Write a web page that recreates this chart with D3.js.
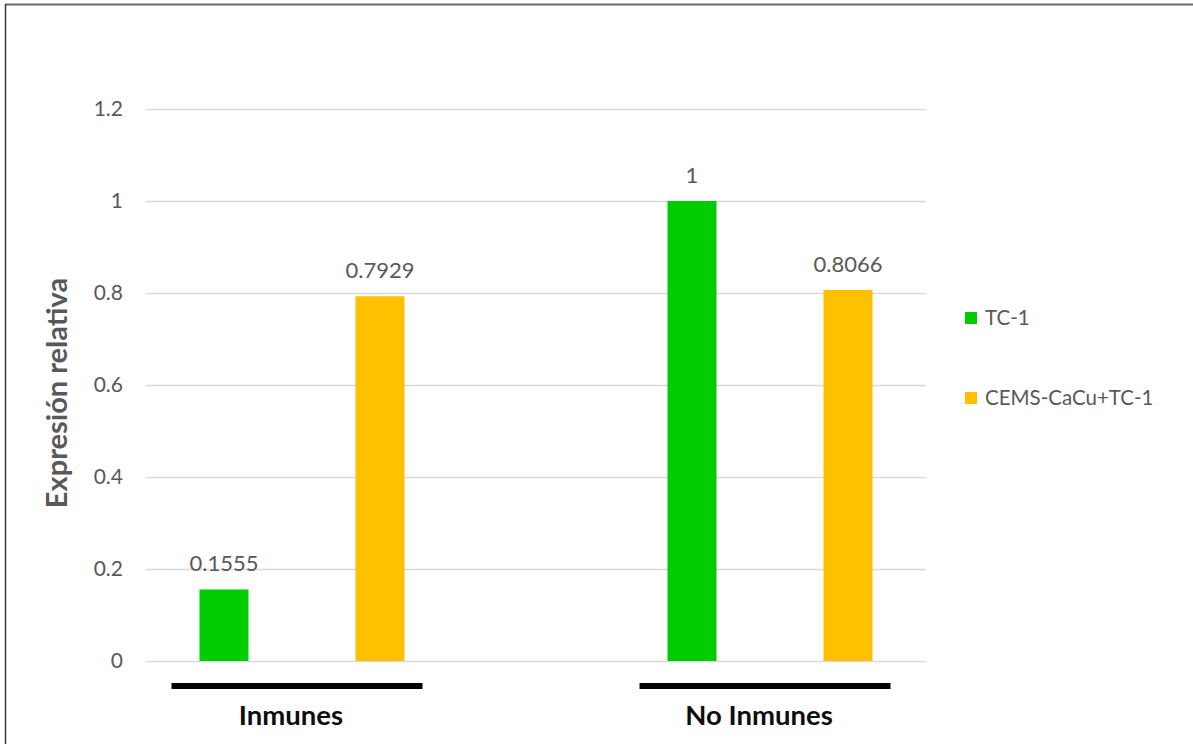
<!DOCTYPE html>
<html>
<head>
<meta charset="utf-8">
<script src="https://cdn.jsdelivr.net/npm/d3@7"></script>
<style>
  html, body { margin: 0; padding: 0; background: #fff; }
  svg { display: block; }
  text { font-family: Lato, "Open Sans", sans-serif; }
</style>
</head>
<body>
<svg id="chart" width="1193" height="744"></svg>
<script>
// ---- data ----
const categories = ["Inmunes", "No Inmunes"];
const seriesNames = ["TC-1", "CEMS-CaCu+TC-1"];
const tc1Values = [0.1555, 1];
const cemsValues = [0.7929, 0.8066];
const valueLabels = ["0.1555", "0.7929", "1", "0.8066"];
const yTicks = [0, 0.2, 0.4, 0.6, 0.8, 1, 1.2];
const yTickLabels = ["0", "0.2", "0.4", "0.6", "0.8", "1", "1.2"];
const seriesColors = ["#00CC00", "#FFC000"];

// slots: each bar has its own slot, with an empty slot between groups
const slots = ["Inmunes|TC-1", "Inmunes|CEMS-CaCu+TC-1", "gap", "No Inmunes|TC-1", "No Inmunes|CEMS-CaCu+TC-1"];
const bars = [];
let li = 0;
categories.forEach((c, ci) => {
  seriesNames.forEach((s, si) => {
    const v = si === 0 ? tc1Values[ci] : cemsValues[ci];
    bars.push({ cat: c, series: s, si, value: v, slot: c + "|" + s, label: valueLabels[li++] });
  });
});

const svg = d3.select("#chart");
const plot = { left: 146, right: 926, top: 109, bottom: 661 };

const x = d3.scaleBand().domain(slots).range([plot.left, plot.right])
  .paddingInner(0.686).paddingOuter(0.343);
const y = d3.scaleLinear().domain([0, 1.2]).range([plot.bottom, plot.top]);

// frame
svg.append("line").attr("x1", 5).attr("x2", 1193).attr("y1", 4.5).attr("y2", 4.5)
  .attr("stroke", "#6b6b6b").attr("stroke-width", 2);
svg.append("line").attr("x1", 5.5).attr("x2", 5.5).attr("y1", 4).attr("y2", 744)
  .attr("stroke", "#3a3a3a").attr("stroke-width", 1.5);

// gridlines + tick labels via axis
const yAxis = d3.axisLeft(y).tickValues(yTicks)
  .tickFormat((d, i) => yTickLabels[i])
  .tickSize(-(plot.right - plot.left)).tickPadding(23);
const ga = svg.append("g").attr("transform", `translate(${plot.left},0)`).call(yAxis);
ga.select(".domain").remove();
ga.selectAll(".tick line").attr("stroke", "#D9D9D9").attr("stroke-width", 1.3);
ga.selectAll(".tick text").attr("fill", "#595959").attr("font-size", 21)
  .attr("font-family", "Lato, sans-serif");

// bars
svg.append("g").selectAll("rect").data(bars).join("rect")
  .attr("x", d => x(d.slot))
  .attr("width", x.bandwidth())
  .attr("y", d => y(d.value))
  .attr("height", d => y(0) - y(d.value))
  .attr("fill", d => seriesColors[d.si]);

// value labels
svg.append("g").selectAll("text").data(bars).join("text")
  .attr("x", d => x(d.slot) + x.bandwidth() / 2)
  .attr("y", d => y(d.value) - 18)
  .attr("text-anchor", "middle")
  .attr("fill", "#595959").attr("font-size", 22)
  .text(d => d.label);

// group underline bars and category labels
categories.forEach((c, ci) => {
  const x0 = x(c + "|" + seriesNames[0]);
  const x1 = x(c + "|" + seriesNames[1]) + x.bandwidth();
  const lx0 = x0 - 28, lx1 = x1 + 18;
  svg.append("line").attr("x1", lx0).attr("x2", lx1).attr("y1", 686).attr("y2", 686)
    .attr("stroke", "#000").attr("stroke-width", 6);
  svg.append("text").attr("x", (lx0 + lx1) / 2 - 6).attr("y", 725)
    .attr("text-anchor", "middle").attr("font-weight", "bold").attr("font-size", 27.5)
    .attr("fill", "#0d0d0d").text(c);
});

// y-axis title
svg.append("text")
  .attr("transform", `translate(67,${(plot.top + plot.bottom) / 2 + 8}) rotate(-90)`)
  .attr("text-anchor", "middle").attr("font-weight", "bold").attr("font-size", 29)
  .attr("fill", "#595959").text("Expresión relativa");

// legend
const leg = svg.append("g").selectAll("g").data(seriesNames).join("g")
  .attr("transform", (d, i) => `translate(965,${312 + i * 80})`);
leg.append("rect").attr("width", 12).attr("height", 12).attr("fill", (d, i) => seriesColors[i]);
leg.append("text").attr("x", 20).attr("y", 12.5).attr("font-size", 20.5)
  .attr("fill", "#595959").text(d => d);
</script>
</body>
</html>
